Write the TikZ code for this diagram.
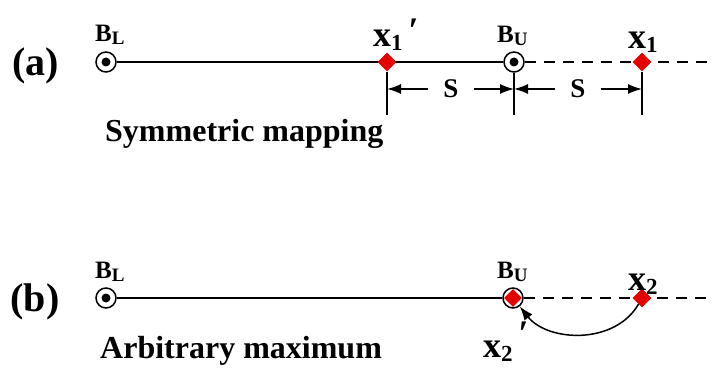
\documentclass[tikz,border=0pt]{standalone}
\usepackage{fontspec}
\setmainfont{Liberation Serif}
\usetikzlibrary{shapes.geometric,arrows.meta}
\newcommand{\lsub}[1]{\raisebox{-3pt}{\fontsize{19}{19}\selectfont #1}}
\newcommand{\xsub}[1]{\raisebox{-4pt}{\fontsize{23}{23}\selectfont #1}}
\tikzset{
	bnd/.style={circle, draw, fill=white, minimum size=20pt, inner sep=0pt, line width=1.5pt,
		path picture={\fill[black] (path picture bounding box.center) circle (4.5pt);}},
	ring/.style={circle, draw, fill=white, minimum size=20pt, inner sep=0pt, line width=1.5pt},
	pt/.style={diamond, fill=red!90!black, minimum size=19pt, inner sep=0pt},
	axis/.style={line width=1.5pt},
	ext/.style={line width=1.5pt, dash pattern=on 11pt off 8pt},
	dim/.style={line width=1.5pt, -{Latex[length=14pt,width=10pt]}},
	blbl/.style={font=\fontsize{25}{25}\selectfont\bfseries, anchor=base west, inner sep=0pt},
	xlbl/.style={font=\fontsize{36}{36}\selectfont\bfseries, anchor=base west, inner sep=0pt},
	slbl/.style={font=\fontsize{27}{27}\selectfont\bfseries, minimum width=45pt, inner sep=0pt},
	tag/.style={font=\fontsize{40}{40}\selectfont\bfseries, inner sep=0pt},
	captxt/.style={font=\fontsize{32}{32}\selectfont\bfseries, anchor=base west, inner sep=0pt}
}
\begin{document}
\begin{tikzpicture}[x=1pt,y=-1pt]
	\useasboundingbox (0,0) rectangle (712,374);
	% (a) symmetric mapping
	\node[bnd] (BLa) at (106,62) {};
	\node[bnd] (BUa) at (514,62) {};
	\coordinate (enda) at (712,62);
	\coordinate (tbot) at (0,115);
	\draw[axis] (BLa) -- (BUa);
	\draw[ext] (BUa) -- (enda);
	\node[pt] (xpa) at (387,62) {};
	\node[pt] (xa) at (642,62) {};
	\draw[axis] (xpa.south) -- (xpa |- tbot);
	\draw[axis] (BUa.south) -- (BUa |- tbot);
	\draw[axis] (xa.south) -- (xa |- tbot);
	\node[slbl] (Sa1) at (451,89) {S};
	\node[slbl] (Sa2) at (578,89) {S};
	\draw[dim] (Sa1) -- (xpa |- Sa1);
	\draw[dim] (Sa1) -- (BUa |- Sa1);
	\draw[dim] (Sa2) -- (BUa |- Sa2);
	\draw[dim] (Sa2) -- (xa |- Sa2);
	\node[tag] (taga) at (36,66) {(a)};
	\node[blbl] (lBLa) at (95,42) {B\lsub{L}};
	\node[blbl] (lBUa) at (497,43) {B\lsub{U}};
	\node[xlbl] (lxpa) at (373,47) {x\xsub{1}\hspace{6pt}\raisebox{4pt}{′}};
	\node[xlbl] (lxa) at (628,49) {x\xsub{1}};
	\node[captxt] (capa) at (105,142) {Symmetric mapping};
	% (b) arbitrary maximum
	\node[bnd] (BLb) at (106,298) {};
	\node[ring] (BUb) at (513,298) {};
	\coordinate (endb) at (712,298);
	\draw[axis] (BLb) -- (BUb);
	\draw[ext] (BUb) -- (endb);
	\node[pt, minimum size=18pt] (xpb) at (513,298) {};
	\node[pt] (xb) at (642,298) {};
	\draw[dim] (xb) .. controls (615,345) and (548,342) .. (BUb);
	\node[tag] (tagb) at (35,302) {(b)};
	\node[blbl] (lBLb) at (95,278) {B\lsub{L}};
	\node[blbl] (lBUb) at (497,278) {B\lsub{U}};
	\node[xlbl] (lxb) at (628,290) {x\xsub{2}};
	\node[xlbl] (lxpb) at (483,357) {x\xsub{2}\hspace{6pt}\raisebox{12pt}{′}};
	\node[captxt] (capb) at (100,358) {Arbitrary maximum};
\end{tikzpicture}
\end{document}
